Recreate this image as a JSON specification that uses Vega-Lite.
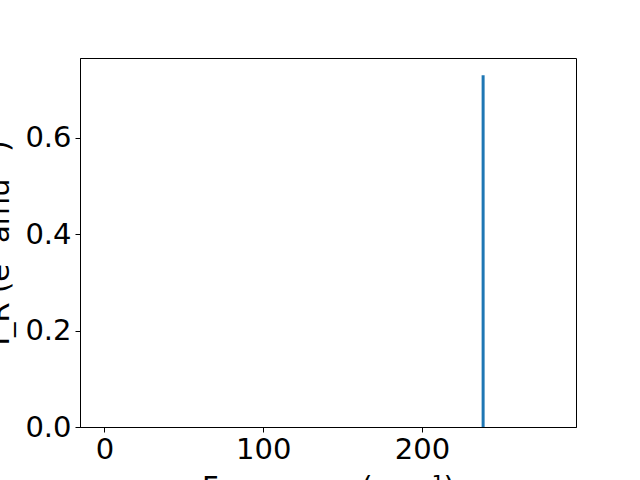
{
  "$schema": "https://vega.github.io/schema/vega-lite/v6.json",
  "autosize": "none",
  "width": 496,
  "height": 369,
  "padding": {"left": 80, "top": 58, "right": 64, "bottom": 53},
  "background": "white",
  "config": {
    "font": "DejaVu Sans",
    "view": {"stroke": "black", "strokeWidth": 1},
    "axis": {
      "grid": false,
      "domainColor": "black",
      "tickColor": "black",
      "tickSize": 5,
      "labelFontSize": 29,
      "labelColor": "black",
      "titleFontSize": 29,
      "titleFontWeight": "normal",
      "titleColor": "black",
      "labelFont": "DejaVu Sans",
      "titleFont": "DejaVu Sans"
    }
  },
  "data": {"values": [{"freq": 238.5, "intensity": 0.729, "base": 0}]},
  "mark": {"type": "rule", "color": "#1f77b4", "strokeWidth": 3},
  "encoding": {
    "x": {
      "field": "freq", "type": "quantitative",
      "scale": {"domain": [-15.4, 297], "nice": false, "zero": false},
      "axis": {"values": [0, 100, 200], "title": "Frequency (cm⁻¹)", "labelPadding": 3, "titlePadding": 9, "labelFlush": false}
    },
    "y": {
      "field": "intensity", "type": "quantitative",
      "scale": {"domain": [0, 0.765], "nice": false},
      "axis": {"values": [0, 0.2, 0.4, 0.6], "format": ".1f", "title": "I_R (e² amu⁻¹)", "labelPadding": 4, "titlePadding": 10, "labelFlush": false}
    },
    "y2": {"field": "base"}
  }
}
